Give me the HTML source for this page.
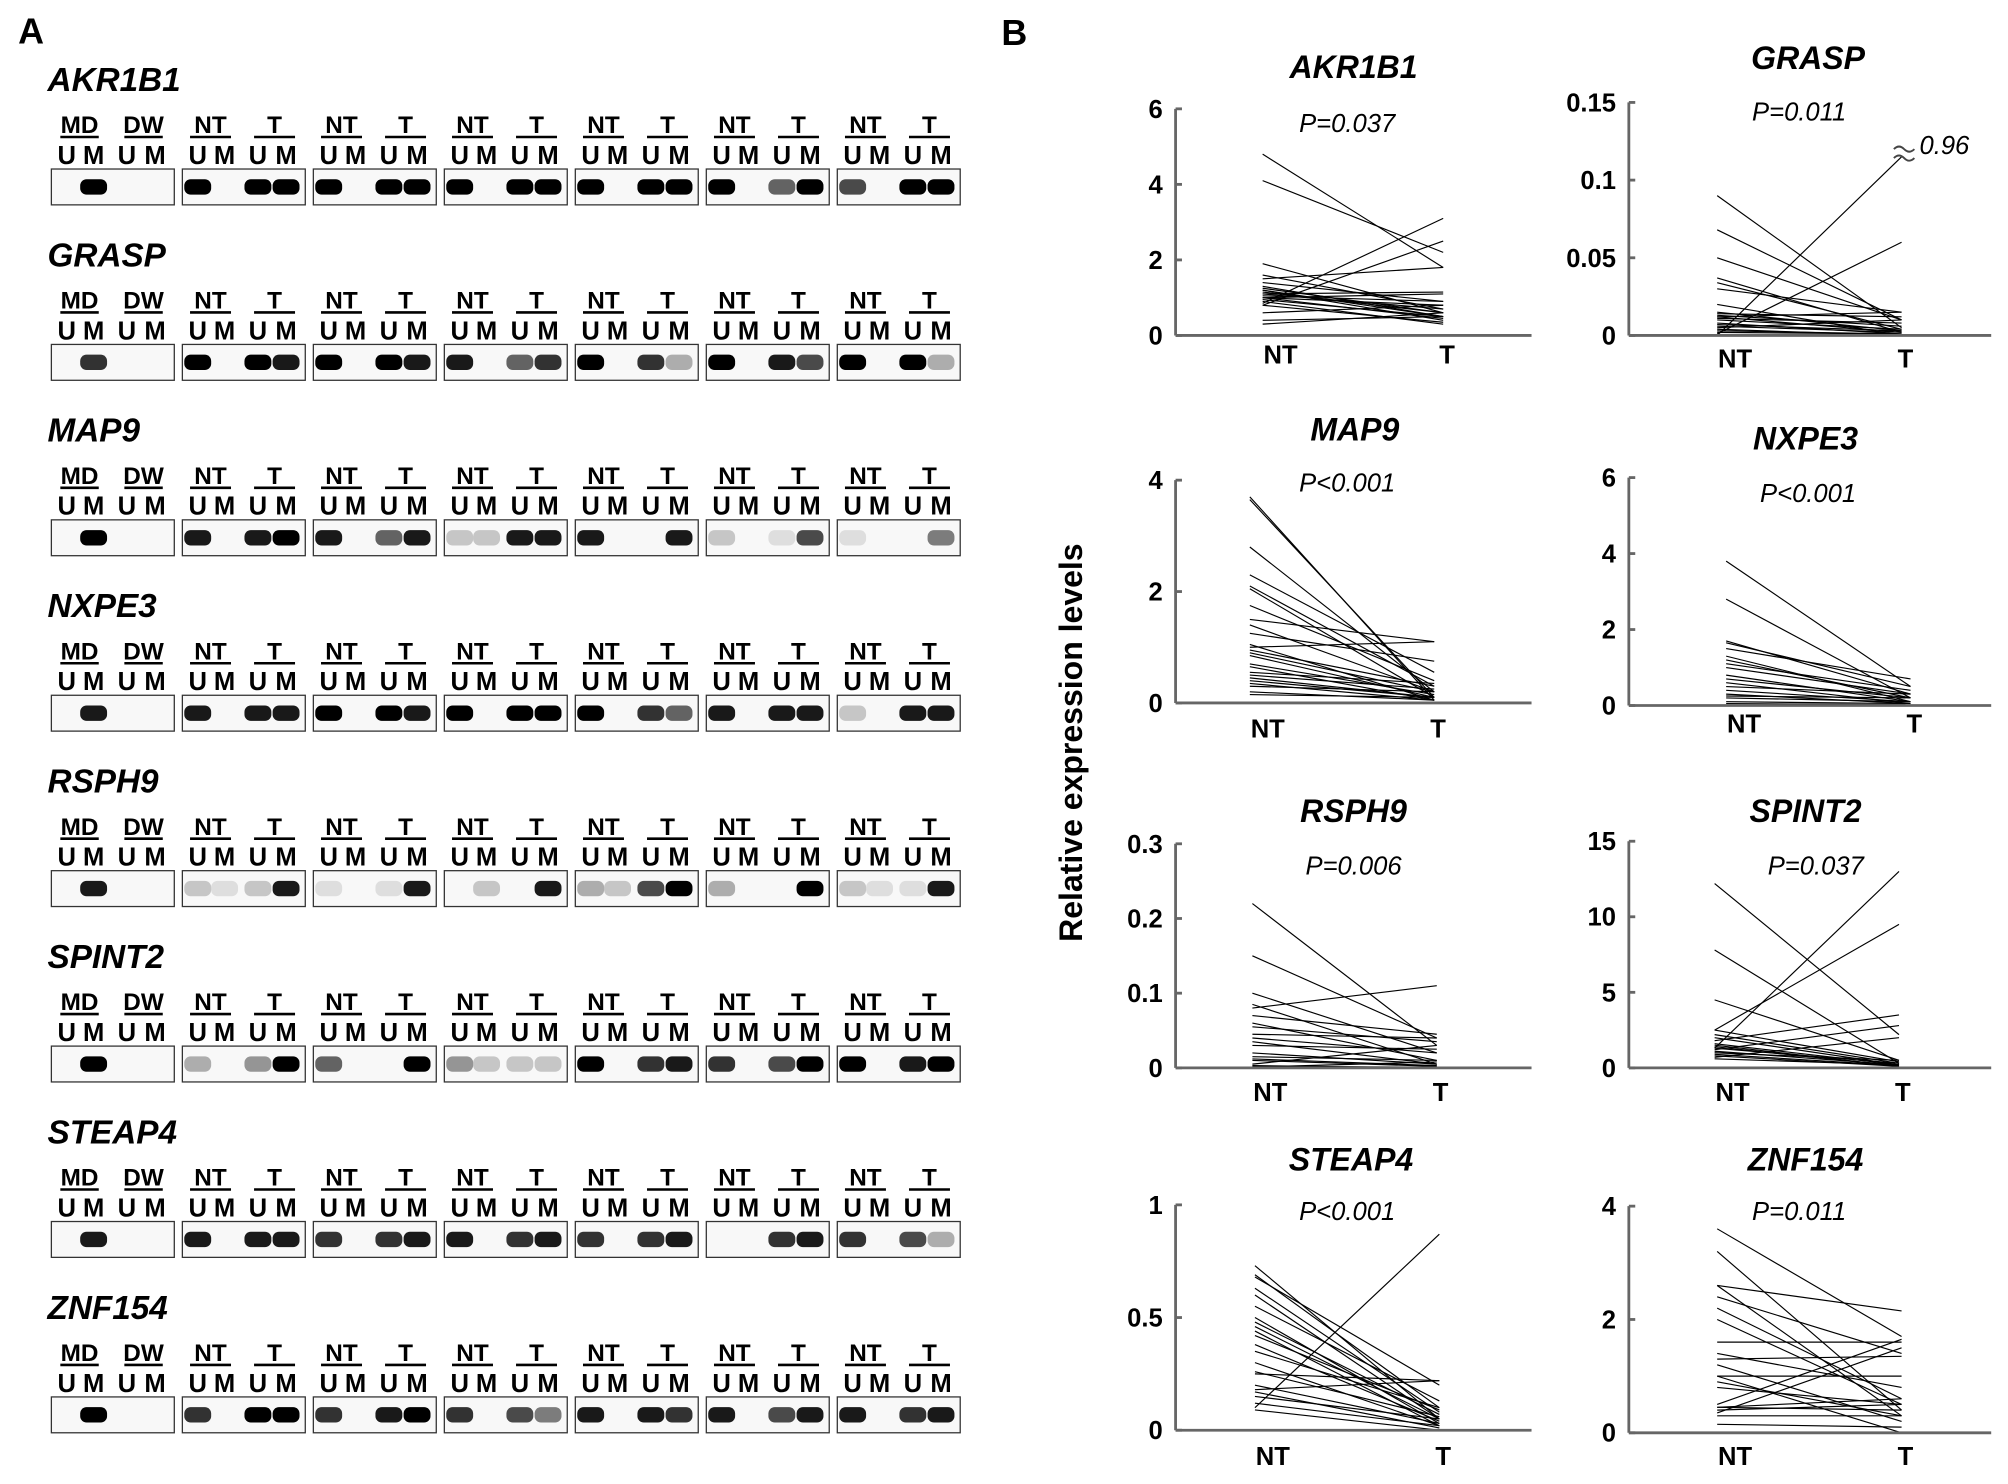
<!DOCTYPE html>
<html><head><meta charset="utf-8"><style>
html,body{margin:0;padding:0;background:#fff;}
svg{display:block;font-family:"Liberation Sans",Arial,sans-serif;}
</style></head><body>
<svg id="fig" width="2008" height="1484" viewBox="0 0 1568 1159" xmlns="http://www.w3.org/2000/svg">
<rect width="1568" height="1159" fill="#fff"/>
<text x="14" y="34" font-size="28" font-weight="bold">A</text>
<text x="782" y="35" font-size="28" font-weight="bold">B</text>
<text transform="translate(845,580) rotate(-90)" text-anchor="middle" font-size="25" font-weight="bold">Relative expression levels</text>
<g id="gels"></g>
<g id="plots"></g>
</svg>
<script>
const NS="http://www.w3.org/2000/svg";
const geneNames=["AKR1B1","GRASP","MAP9","NXPE3","RSPH9","SPINT2","STEAP4","ZNF154"];
const gelAKR1B1=[[0,1,0,0],[1,0,1,1],[1,0,1,1],[1,0,1,1],[1,0,1,1],[1,0,.6,1],[.7,0,1,1]];
const gelGRASP=[[0,.8,0,0],[1,0,1,.9],[1,0,1,.9],[.9,0,.6,.8],[1,0,.8,.3],[1,0,.9,.7],[1,0,1,.3]];
const gelMAP9=[[0,1,0,0],[.9,0,.9,1],[.9,0,.6,.9],[.2,.2,.9,.9],[.9,0,0,.9],[.2,0,.1,.7],[.1,0,0,.5]];
const gelNXPE3=[[0,.9,0,0],[.9,0,.9,.9],[1,0,1,.9],[1,0,1,1],[1,0,.8,.6],[.9,0,.9,.9],[.2,0,.9,.9]];
const gelRSPH9=[[0,.9,0,0],[.2,.1,.2,.9],[.1,0,.1,.9],[0,.2,0,.9],[.3,.2,.7,1],[.3,0,0,1],[.2,.1,.1,.9]];
const gelSPINT2=[[0,1,0,0],[.3,0,.4,1],[.6,0,0,1],[.4,.2,.2,.2],[1,0,.8,.9],[.8,0,.7,1],[1,0,.9,1]];
const gelSTEAP4=[[0,.9,0,0],[.9,0,.9,.9],[.8,0,.8,.9],[.9,0,.8,.9],[.8,0,.8,.9],[0,0,.8,.9],[.8,0,.7,.3]];
const gelZNF154=[[0,1,0,0],[.8,0,1,1],[.8,0,.9,1],[.8,0,.7,.5],[.9,0,.9,.8],[.9,0,.7,.9],[.9,0,.8,.9]];
const gelData=[gelAKR1B1,gelGRASP,gelMAP9,gelNXPE3,gelRSPH9,gelSPINT2,gelSTEAP4,gelZNF154];

function mk(tag,attrs,parent,txt){const e=document.createElementNS(NS,tag);for(const k in attrs)e.setAttribute(k,attrs[k]);if(txt!==undefined)e.textContent=txt;parent.appendChild(e);return e;}

const gels=document.getElementById('gels');
geneNames.forEach((g,gi)=>{
  const by=62+gi*137;
  const grp=mk('g',{},gels);
  
  
  const t=mk('text',{x:37,y:by+9,'font-size':26,'font-weight':'bold','font-style':'italic'},grp,g);
  
  
  for(let b=0;b<7;b++){
    const x0=40+b*102.3;
    const lab=b===0?["MD","DW"]:["NT","T"];
    const cx=[x0+22,x0+72];
    lab.forEach((L,li)=>{
      const tt=mk('text',{x:cx[li],y:by+42,'font-size':19,'font-weight':'bold','text-anchor':'middle'},grp,L);
      
      
      const w=b===0?30:32;
      mk('line',{x1:cx[li]-w/2,x2:cx[li]+w/2,y1:by+45,y2:by+45,stroke:'#000','stroke-width':2},grp);
    });
    const lx=[x0+12,x0+33,x0+59,x0+81];
    ["U","M","U","M"].forEach((L,li)=>{
      const tt=mk('text',{x:lx[li],y:by+66,'font-size':20,'font-weight':'bold','text-anchor':'middle'},grp,L);
      
      
    });
    const box=mk('rect',{x:x0,y:by+70,width:96,height:28,fill:'#f8f8f8',stroke:'#333','stroke-width':1},grp);
    
    
    gelData[gi][b].forEach((v,li)=>{
      if(v<=0)return;
      const band=mk('rect',{x:lx[li]-10.5,y:by+78,width:21,height:12,rx:5,fill:'#000',opacity:Math.min(1,v)},grp);
      
      
    });
  }
});

const ntAKR1B1=[4.8,4.1,1.9,1.6,1.5,1.4,1.3,1.25,1.2,1.2,1.15,1.1,1.1,1.05,1.0,1.0,0.95,0.9,0.85,0.8,0.6,0.4,0.3,0.8,1.0];
const tAKR1B1=[1.8,2.2,0.6,0.7,1.8,0.9,0.5,0.6,0.4,0.5,0.6,0.7,1.15,0.9,0.8,1.1,0.5,0.3,3.1,2.5,0.8,0.5,0.6,0.35,0.45];
const ntGRASP=[0.09,0.068,0.05,0.037,0.034,0.03,0.02,0.015,0.014,0.013,0.012,0.011,0.01,0.008,0.007,0.006,0.005,0.004,0.003,0.001,0,0.012,0.002];
const tGRASP=[0.005,0.01,0.01,0.002,0.004,0.015,0.0,0.003,0.012,0.006,0.002,0.008,0.004,0.001,0.003,0.002,0.01,0.0,0.001,0.06,0.115,0.015,0.001];
const ntMAP9=[3.7,3.65,2.8,2.3,2.1,2.05,1.75,1.5,1.4,1.25,1.05,1.0,0.95,0.9,0.85,0.7,0.65,0.55,0.5,0.45,0.4,0.35,0.3,0.2,0.15];
const tMAP9=[0.05,0.1,0.2,0.55,0.3,0.1,0.4,1.1,0.2,0.75,0.05,1.1,0.3,0.2,0.1,0.15,0.05,0.35,0.25,0.1,0.1,0.05,0.2,0.05,0.1];
const ntNXPE3=[3.8,2.8,1.7,1.65,1.5,1.3,1.2,1.1,1.0,0.8,0.7,0.6,0.5,0.4,0.3,0.25,0.2,0.1,0.05];
const tNXPE3=[0.5,0.2,0.3,0.5,0.7,0.1,0.2,0.4,0.3,0.1,0.2,0.05,0.3,0.1,0.05,0.2,0.1,0.05,0.02];
const ntRSPH9=[0.22,0.15,0.1,0.085,0.08,0.07,0.06,0.055,0.045,0.04,0.035,0.03,0.02,0.015,0.012,0.01,0.005,0.002,0.001,0.003];
const tRSPH9=[0.03,0.04,0.02,0.005,0.11,0.045,0.01,0.035,0.04,0.02,0.005,0.025,0.005,0.01,0.003,0.002,0.03,0.001,0.008,0.0];
const ntSPINT2=[12.2,7.8,4.5,2.5,2.2,2.0,1.8,1.6,1.5,1.4,1.3,1.2,1.1,1.0,0.9,0.8,0.7,0.6,1.3,2.5];
const tSPINT2=[2.2,0.3,0.5,0.4,0.3,0.2,3.5,0.2,0.1,0.1,0.3,2.8,0.2,0.5,0.15,0.1,2.0,0.2,13,9.5];
const ntSTEAP4=[0.73,0.69,0.68,0.63,0.6,0.55,0.5,0.48,0.46,0.44,0.42,0.38,0.35,0.3,0.26,0.2,0.18,0.17,0.15,0.12,0.1,0.09,0.25];
const tSTEAP4=[0.05,0.1,0.2,0.08,0.05,0.13,0.03,0.07,0.05,0.02,0.09,0.04,0.1,0.02,0.06,0.03,0.22,0.01,0.05,0.02,0.87,0.0,0.22];
const ntZNF154=[3.6,3.2,2.6,2.6,2.4,2.2,2.0,1.6,1.4,1.3,1.2,1.0,0.9,0.8,0.5,0.45,0.45,0.4,0.35,0.3,0.15,1.0];
const tZNF154=[1.7,0.4,2.15,0.3,1.4,0.6,0.5,1.6,0.8,1.35,0.2,1.0,0.3,0.5,1.65,0.6,0.4,0.5,1.5,0.3,0.1,0.0];
const pLabels=["P=0.037","P=0.011","P<0.001","P<0.001","P=0.006","P=0.037","P<0.001","P=0.011"];
const tickAKR1B1=[0,2,4,6], tickGRASP=[0,0.05,0.1,0.15], tickMAP9=[0,2,4], tickNXPE3=[0,2,4,6];
const tickRSPH9=[0,0.1,0.2,0.3], tickSPINT2=[0,5,10,15], tickSTEAP4=[0,0.5,1], tickZNF154=[0,2,4];

const layout=[
 {nt:ntAKR1B1,t:tAKR1B1,ticks:tickAKR1B1,ax:918,xe:1196,y0:262,yt:85,ntx:1000,tx:1127,tix:1057,tiy:52,px:1052,py:96,ly:277},
 {nt:ntGRASP,t:tGRASP,ticks:tickGRASP,ax:1272,xe:1555,y0:262,yt:80,ntx:1355,tx:1485,tix:1412,tiy:45,px:1405,py:87,ly:280},
 {nt:ntMAP9,t:tMAP9,ticks:tickMAP9,ax:918,xe:1196,y0:549,yt:375,ntx:990,tx:1120,tix:1058,tiy:335,px:1052,py:377,ly:569},
 {nt:ntNXPE3,t:tNXPE3,ticks:tickNXPE3,ax:1272,xe:1555,y0:551,yt:373,ntx:1362,tx:1492,tix:1410,tiy:342,px:1412,py:385,ly:565},
 {nt:ntRSPH9,t:tRSPH9,ticks:tickRSPH9,ax:918,xe:1196,y0:834,yt:659,ntx:992,tx:1122,tix:1057,tiy:633,px:1057,py:676,ly:853},
 {nt:ntSPINT2,t:tSPINT2,ticks:tickSPINT2,ax:1272,xe:1555,y0:834,yt:657,ntx:1353,tx:1483,tix:1410,tiy:633,px:1418,py:676,ly:853},
 {nt:ntSTEAP4,t:tSTEAP4,ticks:tickSTEAP4,ax:918,xe:1196,y0:1117,yt:941,ntx:994,tx:1124,tix:1055,tiy:905,px:1052,py:946,ly:1137},
 {nt:ntZNF154,t:tZNF154,ticks:tickZNF154,ax:1272,xe:1555,y0:1119,yt:942,ntx:1355,tx:1485,tix:1410,tiy:905,px:1405,py:946,ly:1137}
];
const plots=document.getElementById('plots');
layout.forEach((L,i)=>{
  const g=mk('g',{},plots);
  
  
  const ymax=L.ticks[L.ticks.length-1];
  const ys=v=>L.y0-(v/ymax)*(L.y0-L.yt);
  L.nt.forEach((v,k)=>{
    const ln=mk('line',{x1:L.ntx-14,y1:ys(v),x2:L.tx,y2:ys(L.t[k]),stroke:'#000','stroke-width':0.9},g);
    
    
  });
  mk('line',{x1:L.ax,y1:L.yt,x2:L.ax,y2:L.y0,stroke:'#666','stroke-width':2.2},g);
  mk('line',{x1:L.ax,y1:L.y0,x2:L.xe,y2:L.y0,stroke:'#666','stroke-width':2.2},g);
  L.ticks.forEach(tv=>{
    mk('line',{x1:L.ax,x2:L.ax+5,y1:ys(tv),y2:ys(tv),stroke:'#666','stroke-width':2.2},g);
    const tl=mk('text',{x:L.ax-10,y:ys(tv)+7,'font-size':20,'font-weight':'bold','text-anchor':'end'},g,String(tv));
    
    
  });
  const a=mk('text',{x:L.ntx,y:L.ly+7,'font-size':20,'font-weight':'bold','text-anchor':'middle'},g,'NT');
  
  
  const b=mk('text',{x:L.tx+3,y:L.ly+7,'font-size':20,'font-weight':'bold','text-anchor':'middle'},g,'T');
  
  
  const ti=mk('text',{x:L.tix,y:L.tiy+9,'font-size':25,'font-weight':'bold','font-style':'italic','text-anchor':'middle'},g,geneNames[i]);
  
  
  const p=mk('text',{x:L.px,y:L.py+7,'font-size':20,'font-style':'italic','text-anchor':'middle'},g,pLabels[i]);
  
  
  if(i===1){
    const bx=L.tx, by=ys(0.115);
    mk('path',{d:`M${bx-6},${by-6} q4,-4 8,0 q4,4 8,0 M${bx-6},${by+1} q4,-4 8,0 q4,4 8,0`,fill:'none',stroke:'#444','stroke-width':1.5},g);
    const br=mk('text',{x:bx+14,y:by-2,'font-size':20,'font-style':'italic'},g,'0.96');
    
    
  }
});
</script>
</body></html>
